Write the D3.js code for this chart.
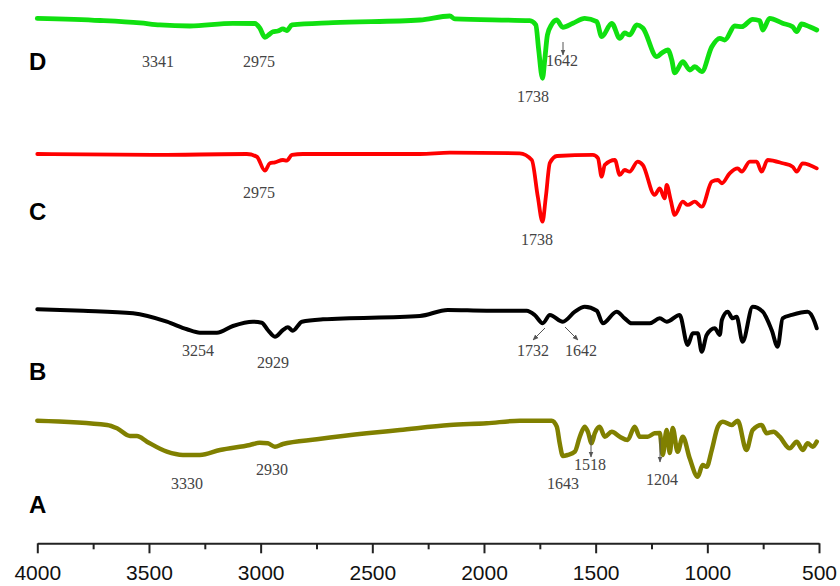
<!DOCTYPE html>
<html>
<head>
<meta charset="utf-8">
<script src="https://cdn.jsdelivr.net/npm/d3@7"></script>
<style>
  html, body { margin: 0; padding: 0; background: #fff; }
  svg { display: block; }
</style>
</head>
<body>
<div id="chart"></div>
<script>
'use strict';

// spectra: [wavenumber (cm-1), transmittance (a.u.)]
var specA = [[4000,101.6],[3688,96.3],[3643,92.1],[3585,82.5],[3554,82.5],[3509,75.4],[3420,62.9],[3348,58.8],
  [3272,58.8],[3182,65],[3048,71.3],[3004,74.1],[2968,73.4],[2936,69.1],[2900,72.5],[2748,78.4],[2525,85.9],
  [2377,90],[2153,96.3],[1988,98.4],[1840,101.6],[1697,101.6],[1674,94.1],[1661,73.4],[1647,57.5],[1625,58.8],
  [1593,62.9],[1571,81.6],[1549,94.1],[1535,87.9],[1518,73.4],[1504,85.9],[1482,94.1],[1459,81.6],[1428,87.9],
  [1392,81.6],[1357,77.5],[1325,94.1],[1303,81.6],[1267,81.6],[1236,85.9],[1213,86.3],[1200,58.8],[1182,90],
  [1168,61.3],[1155,92.5],[1133,62.9],[1110,81.6],[1079,54.6],[1043,31.6],[1021,46.3],[1003,44.1],[980,65],
  [953,94.1],[931,100.4],[891,96.3],[864,101.6],[825,65],[797,90],[757,96.3],[735,85.9],[703,87.9],[676,81.6],
  [631,67.1],[600,75.4],[573,65],[551,73.4],[528,69.1],[510,75.4]];

var specB = [[4000,100.9],[3795,99.1],[3571,95.9],[3420,85.4],[3330,75.9],[3272,71.6],[3196,71.6],[3124,80],
  [3035,85.4],[2995,84.1],[2968,75],[2936,66.6],[2900,75],[2878,78.4],[2856,74.1],[2815,85.4],[2721,88.4],
  [2287,92.5],[2162,100],[1988,99.1],[1809,99.1],[1773,93.8],[1737,83.4],[1705,93.8],[1647,85.4],[1593,97.9],
  [1549,104.1],[1495,99.1],[1468,83.4],[1406,97.9],[1370,89.6],[1339,83.4],[1258,83.4],[1213,89.6],[1182,85.4],
  [1124,93.8],[1088,56.3],[1065,70.9],[1043,70.9],[1025,47.9],[1003,68.8],[967,77.1],[944,68.8],[935,87.5],
  [909,97.9],[887,89.6],[869,91.6],[842,60.4],[797,104.1],[752,97.9],[712,75],[685,54.1],[663,89.6],[622,93.8],
  [551,97.9],[520,85.4],[510,77.1]];

var specC = [[4000,99],[3483,97.8],[3062,99],[3017,95.6],[2981,78.1],[2959,87.4],[2936,88.6],[2900,91.5],
  [2883,90.6],[2860,97.8],[2811,99],[2287,99],[2153,100.6],[1840,99.9],[1786,91.5],[1759,45.6],[1738,14.4],
  [1723,45.6],[1705,87.8],[1673,96.5],[1513,97.8],[1490,94],[1473,70.6],[1459,85.3],[1414,91.5],[1392,72.8],
  [1370,79],[1348,76.9],[1312,89.4],[1289,85.3],[1236,47.8],[1213,56.1],[1191,43.6],[1182,60.3],[1164,41.5],
  [1146,22.8],[1110,39.4],[1088,35.3],[1056,39.4],[1025,33.1],[980,64.4],[953,66.5],[935,62.4],[900,74.9],
  [864,81.1],[846,76.9],[810,89.4],[779,89.4],[757,76.9],[730,91.5],[663,87.4],[618,83.1],[600,76.9],
  [573,87.4],[510,81.1]];

var specD = [[4000,99.6],[3719,96.9],[3540,93.8],[3451,91.3],[3317,90],[3124,93.4],[3026,93.1],[3004,87.5],
  [2981,75.9],[2959,80],[2945,82.9],[2923,83.8],[2900,86.3],[2883,84.4],[2860,91.3],[2676,94.1],[2287,97.5],
  [2153,102.5],[2130,98.8],[1795,96.6],[1768,91.3],[1755,60],[1738,24.6],[1728,47.5],[1716,78.8],[1698,91.3],
  [1675,97.5],[1647,88.4],[1602,93.4],[1549,99.6],[1495,95.4],[1473,76.6],[1428,93.4],[1392,74.6],[1370,81.3],
  [1348,78.8],[1316,91.3],[1289,87.5],[1226,51.6],[1204,56.3],[1177,60],[1159,47.5],[1146,31.3],[1110,45.4],
  [1078,35],[1056,39.1],[1025,32.9],[980,64.1],[944,74.6],[922,72.5],[877,90],[846,89.1],[797,98.4],[765,96.6],
  [752,85],[721,99.6],[663,93.4],[618,89.1],[600,82.9],[578,92.5],[542,89.1],[510,85]];

var seriesNames = ['A', 'B', 'C', 'D'];
var seriesData = [specA, specB, specC, specD];
var seriesOffsets = [0, 140, 336, 505];
var seriesColors = ['#808000', '#000000', '#ff0000', '#10e010'];
var seriesWidths = [4.5, 4, 3.8, 4.8];

var xTicks = [4000, 3500, 3000, 2500, 2000, 1500, 1000, 500];
var xMinorTicks = [3750, 3250, 2750, 2250, 1750, 1250, 750];

// peak labels: text, x, y (layout in px)
var peakLabels = [
  ['3341', 158, 67], ['2975', 259, 67], ['1642', 562, 66], ['1738', 533, 102],
  ['2975', 259, 198], ['1738', 537, 245],
  ['3254', 198, 356], ['2929', 273, 368], ['1732', 533, 356], ['1642', 581, 356],
  ['3330', 187, 489], ['2930', 272, 475], ['1643', 563, 489], ['1518', 590, 470], ['1204', 662, 485]
];
var peakArrows = [
  [563, 42, 563, 55], [545, 328, 533, 340], [565, 327, 578, 340],
  [591, 435, 591, 457], [660, 438, 660, 462]
];
var letterY = [513, 380, 220, 70];

var width = 840, height = 586;

var svg = d3.select('#chart').append('svg')
    .attr('width', width)
    .attr('height', height);
svg.append('rect').attr('width', width).attr('height', height).attr('fill', '#fff');

var x = d3.scaleLinear().domain([4000, 500]).range([37.3, 819]);
var y = d3.scaleLinear().domain([0, 625]).range([502, 2]);

var defs = svg.append('defs');
defs.append('marker')
    .attr('id', 'arrowhead')
    .attr('viewBox', '0 0 10 10')
    .attr('refX', 9).attr('refY', 5)
    .attr('markerWidth', 6).attr('markerHeight', 6)
    .attr('orient', 'auto')
  .append('path')
    .attr('d', 'M0,1 L10,5 L0,9 z')
    .attr('fill', '#555');

// spectra
for (var i = 0; i < seriesData.length; i++) {
  var off = seriesOffsets[i];
  var line = d3.line()
      .curve(d3.curveMonotoneX)
      .x(function(d){ return x(d[0]); })
      .y(function(d){ return y(d[1] + off); });
  svg.append('path')
      .datum(seriesData[i])
      .attr('d', line)
      .attr('fill', 'none')
      .attr('stroke', seriesColors[i])
      .attr('stroke-width', seriesWidths[i])
      .attr('stroke-linejoin', 'round')
      .attr('stroke-linecap', 'round');

  svg.append('text')
      .attr('x', 29)
      .attr('y', letterY[i])
      .text(seriesNames[i])
      .style('font-family', 'Liberation Sans, Arial, sans-serif')
      .style('font-weight', 'bold')
      .style('font-size', '24px')
      .style('fill', '#000');
}

// peak annotations
svg.selectAll('.peak')
    .data(peakLabels)
  .enter().append('text')
    .attr('class', 'peak')
    .attr('x', function(d){ return d[1]; })
    .attr('y', function(d){ return d[2]; })
    .attr('text-anchor', 'middle')
    .text(function(d){ return d[0]; })
    .style('font-family', 'Liberation Serif, Times New Roman, serif')
    .style('font-size', '16px')
    .style('fill', '#444');

svg.selectAll('.arrow')
    .data(peakArrows)
  .enter().append('line')
    .attr('class', 'arrow')
    .attr('x1', function(d){ return d[0]; })
    .attr('y1', function(d){ return d[1]; })
    .attr('x2', function(d){ return d[2]; })
    .attr('y2', function(d){ return d[3]; })
    .attr('stroke', '#555')
    .attr('stroke-width', 1)
    .attr('marker-end', 'url(#arrowhead)');

// x axis
var axisY = 543.3;
var minor = svg.append('g')
    .attr('transform', 'translate(0,' + axisY + ')')
    .call(d3.axisBottom(x).tickValues(xMinorTicks).tickSize(6).tickFormat(''));
minor.select('.domain').remove();
minor.selectAll('line').attr('stroke', '#222').attr('stroke-width', 2);

var axis = svg.append('g')
    .attr('transform', 'translate(0,' + axisY + ')')
    .call(d3.axisBottom(x).tickValues(xTicks).tickSize(10).tickSizeOuter(0).tickPadding(12)
      .tickFormat(d3.format('d')));
axis.select('.domain').attr('stroke', '#222').attr('stroke-width', 2);
axis.selectAll('.tick line').attr('stroke', '#222').attr('stroke-width', 2);
axis.selectAll('text')
    .style('font-family', 'Liberation Sans, Arial, sans-serif')
    .style('font-size', '21px')
    .style('fill', '#111');
</script>
</body>
</html>
